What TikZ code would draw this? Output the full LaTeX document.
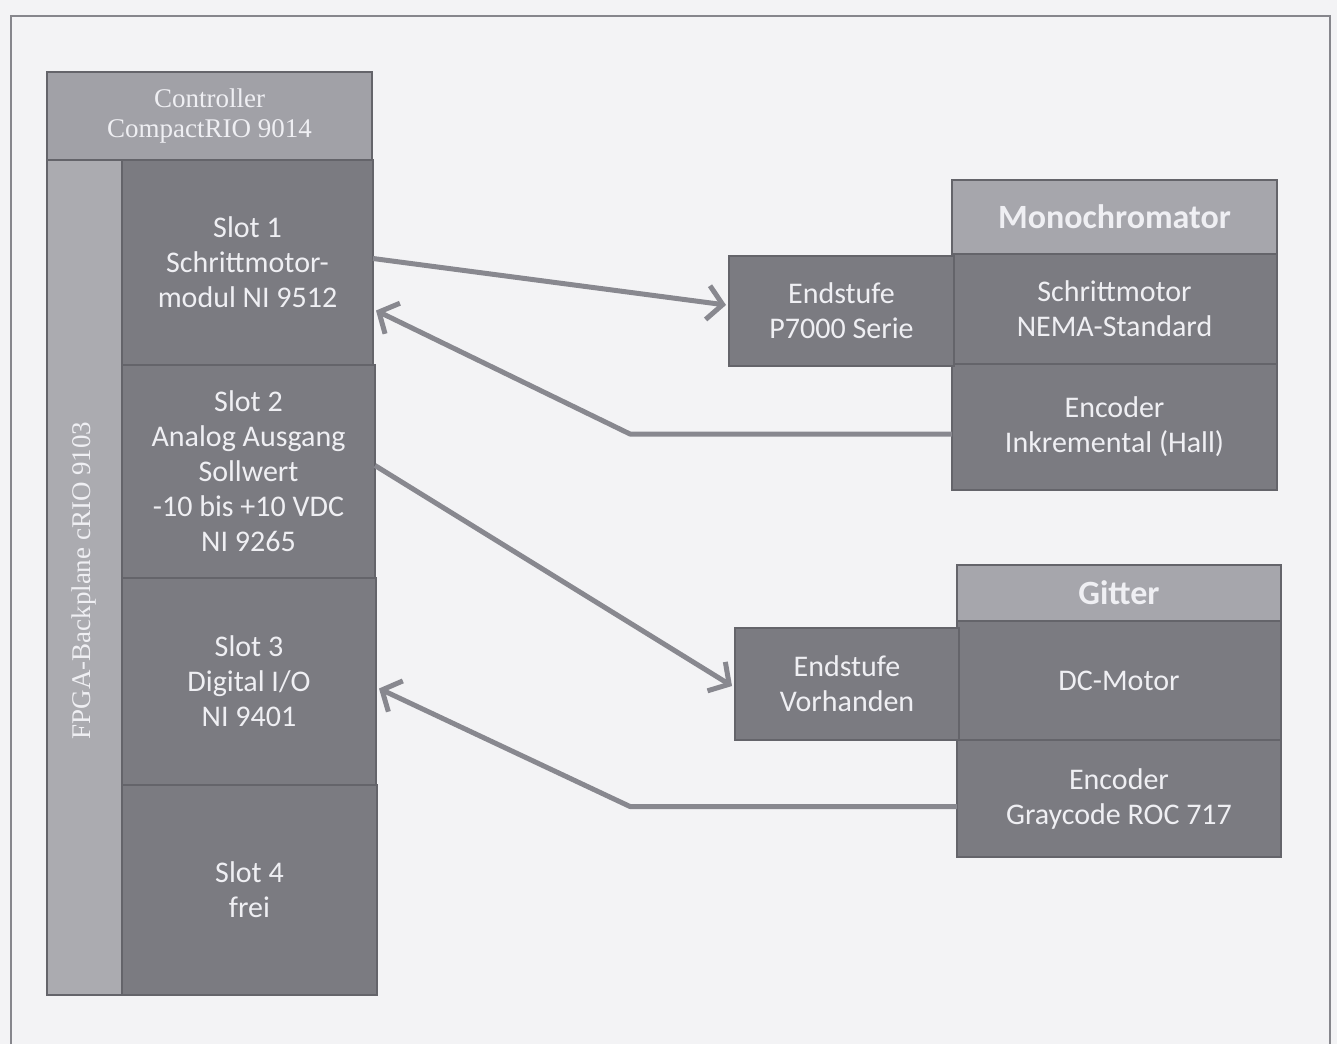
\documentclass[tikz,border=0pt]{standalone}
\usepackage{fontspec}
\setmainfont{Carlito}
\newfontfamily\serifface{Liberation Serif}
\usetikzlibrary{arrows.meta}
\definecolor{paper}{HTML}{F3F3F5}
\definecolor{framecol}{HTML}{86868C}
\definecolor{ctrlfill}{HTML}{A1A1A7}
\definecolor{backfill}{HTML}{ABABB0}
\definecolor{slotfill}{HTML}{7B7B81}
\definecolor{headfill}{HTML}{A6A6AC}
\definecolor{edgecol}{HTML}{64646A}
\definecolor{txtcol}{HTML}{EFEFF3}
\definecolor{arrowcol}{HTML}{88888F}
\tikzset{
  every node/.style={inner sep=0pt, outer sep=0pt},
  box/.style={draw=edgecol, line width=1.2pt, anchor=north west, text=txtcol,
    align=center, font=\fontsize{30}{35}\selectfont},
  slotbox/.style={box, fill=slotfill},
  headbox/.style={box, fill=headfill, font=\fontsize{34}{35}\selectfont\bfseries},
  serifbox/.style={box, font=\serifface\fontsize{27}{30}\selectfont},
  conn/.style={draw=arrowcol, line width=5pt, line join=round,
    -{Straight Barb[length=15pt,width=34pt,line width=5pt]}},
  framestyle/.style={draw=framecol, line width=2.5pt}
}
\begin{document}
\begin{tikzpicture}[x=1pt,y=-1pt]
\useasboundingbox (0,0) rectangle (1337,1044);
\fill[paper] (0,0) rectangle (1337,1044);
\draw[framestyle] (11,1044) -- (11,16) -- (1330,16) -- (1330,1044);

% left block
\node[serifbox, fill=ctrlfill, minimum width=325, minimum height=88] (ctrl) at (47,72)
  {Controller\\CompactRIO 9014};
\node[serifbox, fill=backfill, minimum width=75, minimum height=835] (back) at (47,160) {};
\node[text=txtcol, font=\serifface\fontsize{27}{30}\selectfont, rotate=90] (backlbl)
  at ([yshift=-3]back.center) {FPGA-Backplane cRIO 9103};
\node[slotbox, minimum width=251, minimum height=205] (s1) at (122,160)
  {Slot 1\\Schrittmotor-\\modul NI 9512};
\node[slotbox, minimum width=253, minimum height=213] (s2) at (122,365)
  {Slot 2\\Analog Ausgang\\Sollwert\\-10 bis +10 VDC\\NI 9265};
\node[slotbox, minimum width=254, minimum height=207] (s3) at (122,578)
  {Slot 3\\Digital I/O\\NI 9401};
\node[slotbox, minimum width=255, minimum height=210] (s4) at (122,785)
  {Slot 4\\frei};

% Monochromator group
\node[headbox, minimum width=325, minimum height=74] (mono) at (952,180) {Monochromator};
\node[slotbox, minimum width=325, minimum height=110] (sm) at (952,254)
  {Schrittmotor\\NEMA-Standard};
\node[slotbox, minimum width=325, minimum height=126] (enc1) at (952,364)
  {Encoder\\Inkremental (Hall)};
\node[slotbox, minimum width=225, minimum height=110] (end1) at (729,256)
  {Endstufe\\P7000 Serie};

% Gitter group
\node[headbox, minimum width=324, minimum height=56] (git) at (957,565) {Gitter};
\node[slotbox, minimum width=324, minimum height=119] (dc) at (957,621) {DC-Motor};
\node[slotbox, minimum width=324, minimum height=117] (enc2) at (957,740)
  {Encoder\\Graycode ROC 717};
\node[slotbox, minimum width=224, minimum height=112] (end2) at (735,628)
  {Endstufe\\Vorhanden};

% connectors
\draw[conn] ([yshift=4]s1.east) -- ([xshift=-3,yshift=6]end1.west);
\draw[conn] ([yshift=-7]enc1.west) -- ++(-322,0) -- ([xshift=3,yshift=-48]s1.east);
\draw[conn] ([yshift=6]s2.east) -- ([xshift=-3,yshift=-2]end2.west);
\draw[conn] ([yshift=-8]enc2.west) -- ++(-327,0) -- ([xshift=3,yshift=-7]s3.east);
\end{tikzpicture}
\end{document}
